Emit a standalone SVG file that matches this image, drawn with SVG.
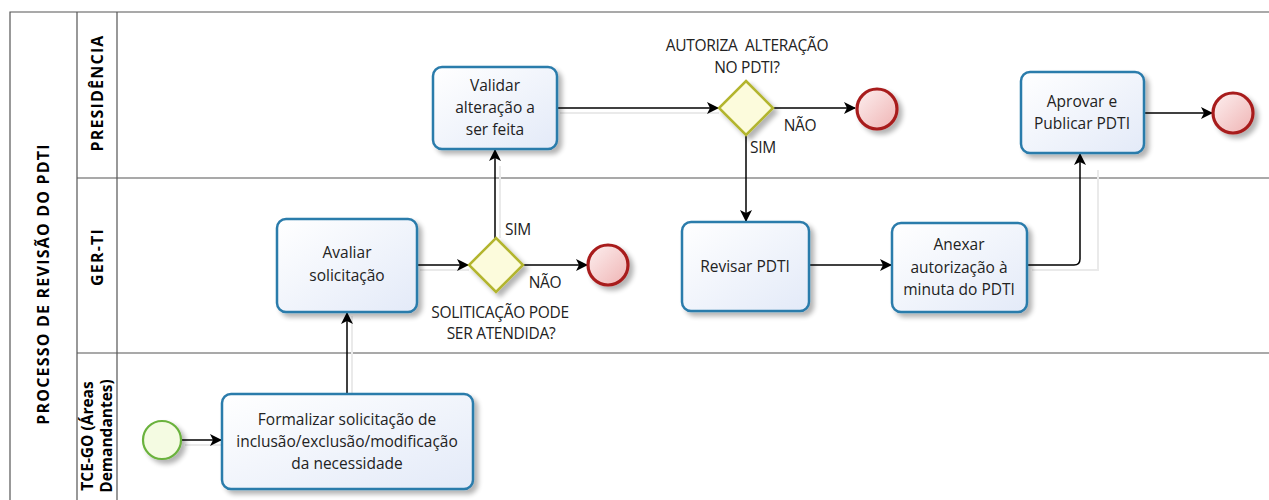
<svg xmlns="http://www.w3.org/2000/svg" width="1269" height="500" viewBox="0 0 1269 500">
<style>
.lane{fill:none;stroke:#555;stroke-width:1.2}
.lbl{font-family:"Open Sans","Liberation Sans",sans-serif;font-weight:bold;font-size:16px;fill:#000;text-anchor:middle;letter-spacing:1.2px}
.lbl2{font-family:"Open Sans","Liberation Sans",sans-serif;font-weight:bold;font-size:15.5px;fill:#000;text-anchor:middle}
.task rect{fill:url(#gTask);stroke:#2b7bab;stroke-width:2.5}
.txt{font-family:"Open Sans","Noto Sans",sans-serif;font-size:15.5px;fill:#222;text-anchor:middle}
.gtxt{font-family:"Open Sans","Noto Sans",sans-serif;font-size:15.5px;fill:#222;text-anchor:middle;letter-spacing:-0.3px;white-space:pre}
.gw polygon{fill:#fcfbdc;stroke:#b3b52e;stroke-width:2.5}
.end circle{fill:url(#gEnd);stroke:#a81d1d;stroke-width:3.2}
.start circle{fill:#f4fbe2;stroke:#6ab23c;stroke-width:2.2}
.conn path{fill:none;stroke:#000;stroke-width:1.5;marker-end:url(#arr)}
.shadow path{fill:none;stroke:#eaeaea;stroke-width:2}
</style>
<defs>
<linearGradient id="gTask" x1="0" y1="0" x2="1" y2="1">
<stop offset="0" stop-color="#ffffff"/><stop offset="1" stop-color="#e3eaf8"/>
</linearGradient>
<linearGradient id="gEnd" x1="0" y1="0" x2="1" y2="1">
<stop offset="0" stop-color="#fdf0f0"/><stop offset="1" stop-color="#efb3b3"/>
</linearGradient>
<filter id="sh" x="-20%" y="-20%" width="150%" height="150%">
<feGaussianBlur in="SourceAlpha" stdDeviation="2.5"/>
<feOffset dx="4" dy="4" result="b"/>
<feComponentTransfer><feFuncA type="linear" slope="0.3"/></feComponentTransfer>
<feMerge><feMergeNode/><feMergeNode in="SourceGraphic"/></feMerge>
</filter>
<marker id="arr" viewBox="0 0 12 12" refX="11" refY="6" markerWidth="12" markerHeight="12" markerUnits="userSpaceOnUse" orient="auto">
<path d="M0,0 L12,6 L0,12 L3,6 Z" fill="#000"/>
</marker>
</defs>
<rect width="1269" height="500" fill="#fff"/>
<g id="pool">
<path class="lane" d="M10,500 V12 H1269 M77,12 V500 M117,12 V500 M77,178 H1269 M77,353 H1269"/>
<text class="lbl" transform="translate(49,284) rotate(-90)">PROCESSO DE REVISÃO DO PDTI</text>
<text class="lbl" transform="translate(103,93) rotate(-90)">PRESIDÊNCIA</text>
<text class="lbl" transform="translate(103,257) rotate(-90)">GER-TI</text>
<text class="lbl2" transform="translate(93,436) rotate(-90)">TCE-GO (Áreas</text>
<text class="lbl2" transform="translate(112,436) rotate(-90)">Demandantes)</text>
</g>
<g class="shadow">
<path d="M185,445 H222 M352,394 V316 M420,270 H469 M500,238 V166 M560,113 H719 M1032,270 H1098 V170"/>
</g>
<g id="connectors" class="conn">
<path d="M181,440 H221"/>
<path d="M347,394 V313"/>
<path d="M417,265 H468"/>
<path d="M523,265 H587"/>
<path d="M495,238 V150"/>
<path d="M557,108 H718"/>
<path d="M773,108 H855"/>
<path d="M746,136 V221"/>
<path d="M809,265 H891"/>
<path d="M1027,265 H1074 Q1080,265 1080,259 V154"/>
<path d="M1144,113 H1212"/>
</g>
<g id="labels">
<text class="gtxt" x="518" y="235">SIM</text>
<text class="gtxt" x="545" y="288">NÃO</text>
<text class="gtxt" x="500" y="318">SOLITICAÇÃO PODE</text>
<text class="gtxt" x="501" y="339">SER ATENDIDA?</text>
<text class="gtxt" x="747" y="51" xml:space="preserve">AUTORIZA  ALTERAÇÃO</text>
<text class="gtxt" x="747" y="73">NO PDTI?</text>
<text class="gtxt" x="800" y="131">NÃO</text>
<text class="gtxt" x="763" y="153">SIM</text>
</g>
<g id="start" class="start" filter="url(#sh)"><circle cx="162" cy="440" r="19"/></g>
<g id="formalizar" class="task">
<rect x="222" y="394" width="251" height="95" rx="9" filter="url(#sh)"/>
<text class="txt" x="347" y="425">Formalizar solicitação de</text>
<text class="txt" x="347" y="447">inclusão/exclusão/modificação</text>
<text class="txt" x="347" y="469">da necessidade</text>
</g>
<g id="avaliar" class="task">
<rect x="277" y="219" width="140" height="93" rx="9" filter="url(#sh)"/>
<text class="txt" x="347" y="258">Avaliar</text>
<text class="txt" x="347" y="281">solicitação</text>
</g>
<g id="gw1" class="gw" filter="url(#sh)"><polygon points="496,238 523,265 496,292 469,265"/></g>
<g id="end1" class="end" filter="url(#sh)"><circle cx="608" cy="265" r="20"/></g>
<g id="validar" class="task">
<rect x="433" y="67" width="124" height="82" rx="9" filter="url(#sh)"/>
<text class="txt" x="495" y="91">Validar</text>
<text class="txt" x="495" y="113">alteração a</text>
<text class="txt" x="495" y="135">ser feita</text>
</g>
<g id="gw2" class="gw" filter="url(#sh)"><polygon points="746,81 773,108 746,135 719,108"/></g>
<g id="end2" class="end" filter="url(#sh)"><circle cx="877" cy="109" r="20"/></g>
<g id="revisar" class="task">
<rect x="682" y="222" width="127" height="89" rx="9" filter="url(#sh)"/>
<text class="txt" x="745" y="272">Revisar PDTI</text>
</g>
<g id="anexar" class="task">
<rect x="892" y="223" width="135" height="89" rx="9" filter="url(#sh)"/>
<text class="txt" x="959" y="250">Anexar</text>
<text class="txt" x="959" y="273">autorização à</text>
<text class="txt" x="959" y="295">minuta do PDTI</text>
</g>
<g id="aprovar" class="task">
<rect x="1021" y="72" width="123" height="81" rx="9" filter="url(#sh)"/>
<text class="txt" x="1082" y="107">Aprovar e</text>
<text class="txt" x="1082" y="129">Publicar PDTI</text>
</g>
<g id="end3" class="end" filter="url(#sh)"><circle cx="1233" cy="113" r="20"/></g>
</svg>
